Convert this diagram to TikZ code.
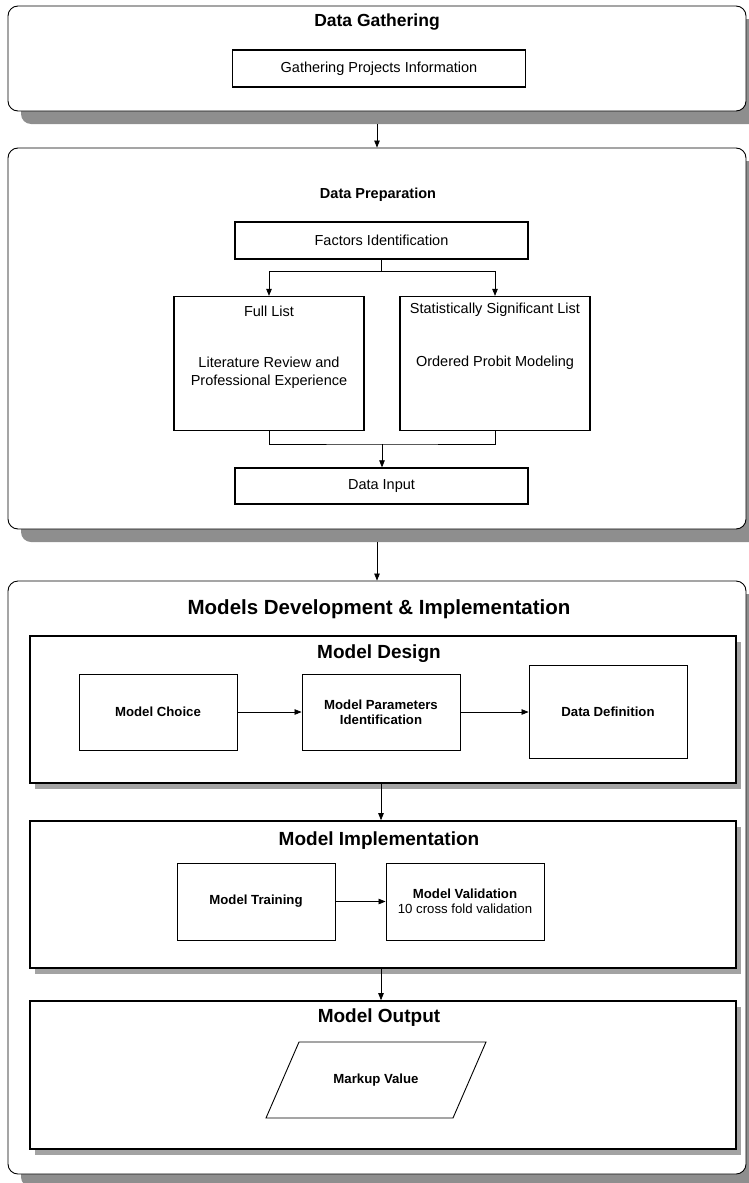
\documentclass[tikz,border=0pt]{standalone}
\usepackage{fontspec}
\setmainfont{Liberation Sans}
\usetikzlibrary{arrows.meta,shadows,positioning}
\definecolor{shadowdark}{HTML}{8E8E8E}
\definecolor{shadowlight}{HTML}{A3A3A3}
\tikzset{
  stage/.style={draw, rounded corners=10pt, line width=0.9pt, fill=white,
    minimum width=738pt, inner sep=0pt,
    drop shadow={shadow xshift=13pt, shadow yshift=-13pt, fill=shadowdark, opacity=1}},
  part/.style={draw, line width=1.6pt, fill=white, minimum width=706pt,
    minimum height=147pt, inner sep=0pt,
    drop shadow={shadow xshift=5pt, shadow yshift=-6pt, fill=shadowlight, opacity=1}},
  prepbox/.style={draw, line width=1.3pt, fill=white, inner sep=0pt,
    minimum width=293pt, minimum height=37pt,
    font=\fontsize{14.5}{17}\selectfont},
  listbox/.style={draw, line width=1.3pt, inner sep=0pt,
    minimum width=190pt, minimum height=134pt},
  modbox/.style={draw, line width=0.9pt, inner sep=0pt, align=center,
    minimum width=158pt, minimum height=77pt,
    font=\bfseries\fontsize{13.2}{15}\selectfont},
  plain/.style={inner sep=0pt, align=center, font=\fontsize{14.5}{18}\selectfont},
  bigtitle/.style={inner sep=0pt, font=\bfseries\fontsize{20.5}{24}\selectfont},
  subtitle/.style={inner sep=0pt, font=\bfseries\fontsize{19}{22}\selectfont},
  arr/.style={line width=0.7pt, -{Triangle[length=7pt,width=5.5pt]}},
  link/.style={line width=0.7pt}
}
\begin{document}
\begin{tikzpicture}[x=1pt,y=-1pt]
\useasboundingbox (0,0) rectangle (748,1183);
% Stufen
\node[stage, minimum height=105pt] (gather) at (377,58.5) {};
\node[stage, minimum height=381pt] (prep) at (377,338.5) {};
\node[stage, minimum height=593pt] (models) at (377,877.5) {};
% Data Gathering
\node[inner sep=0pt, font=\bfseries\fontsize{17.5}{21}\selectfont] (gathertitle) at (377,22) {Data Gathering};
\node[prepbox] (gatherinfo) at (379,68.5) {Gathering Projects Information};
% Data Preparation
\node[inner sep=0pt, font=\bfseries\fontsize{14.5}{17}\selectfont] (preptitle) at (378,195) {Data Preparation};
\node[prepbox] (factors) at (381.5,240.5) {Factors Identification};
\node[listbox] (full) at (269,363.5) {};
\node[listbox] (stat) at (495,363.5) {};
\node[plain] (fulltitle) at (269,311) {Full List};
\node[plain] (fulltext) at (269,373) {Literature Review and\\Professional Experience};
\node[plain] (stattitle) at (495,310) {Statistically Significant List};
\node[plain] (stattext) at (495,363) {Ordered Probit Modeling};
\node[prepbox, minimum height=36pt] (input) at (381.5,486) {Data Input};
\coordinate (merge) at (382,444);
\draw[arr] (factors.south) -- ++(0,12) -| (full.north);
\draw[arr] (factors.south) -- ++(0,12) -| (stat.north);
\draw[link] (full.south) |- (merge) -| (stat.south);
\draw[arr] (merge) -- (merge |- input.north);
% Models Development & Implementation
\node[bigtitle] (modelstitle) at (379,609) {Models Development \& Implementation};
\node[part] (design) at (383,709.5) {};
\node[part] (impl) at (383,894.5) {};
\node[part, minimum height=148pt] (output) at (383,1075) {};
% Model Design
\node[subtitle] (designtitle) at (379,654) {Model Design};
\node[modbox, minimum height=76pt] (choice) at (158,712) {Model Choice};
\node[modbox, minimum height=76pt] (params) at (381,712) {Model Parameters\\Identification};
\node[modbox, minimum height=93pt] (datadef) at (608,712) {Data Definition};
\draw[arr] (choice) -- (params);
\draw[arr] (params) -- (datadef);
% Model Implementation
\node[subtitle] (impltitle) at (379,841) {Model Implementation};
\node[modbox] (training) at (256,901.5) {Model Training};
\node[modbox] (validation) at (465,901.5) {Model Validation\\{\mdseries 10 cross fold validation}};
\draw[arr] (training) -- (validation);
% Model Output
\node[subtitle] (outputtitle) at (379,1018) {Model Output};
\node[inner sep=0pt, font=\bfseries\fontsize{13.2}{15}\selectfont] (markup) at (376,1080) {Markup Value};
\draw[line width=0.9pt] (markup.center) ++(-110,38) -- ++(33,-76) -- ++(187,0) -- ++(-33,76) -- cycle;
% Verbindungen
\draw[arr] ([yshift=-13pt]gather.south) -- (prep.north);
\draw[arr] ([yshift=-13pt]prep.south) -- (models.north);
\draw[arr] (design.south -| params) -- (impl.north -| params);
\draw[arr] (impl.south -| params) -- (output.north -| params);
\end{tikzpicture}
\end{document}
